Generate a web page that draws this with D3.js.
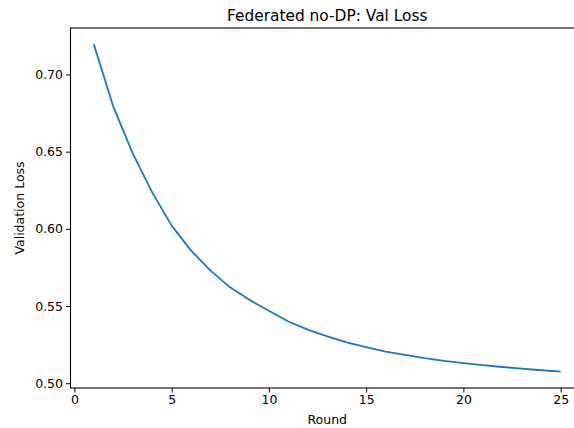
<!DOCTYPE html>
<html>
<head>
<meta charset="utf-8">
<script src="https://cdn.jsdelivr.net/npm/d3@7"></script>
<style>
  body { margin: 0; background: #fff; }
  svg { display: block; font-family: "DejaVu Sans", sans-serif; }
</style>
</head>
<body>
<svg id="chart"></svg>
<script>
// Validation loss per federated round
const rounds = d3.range(1, 26);
const valLoss = [
  0.7195, 0.6792, 0.6489, 0.6236, 0.6021,
  0.5859, 0.5729, 0.5621, 0.5540, 0.5469,
  0.5400, 0.5347, 0.5303, 0.5265, 0.5233,
  0.5205, 0.5183, 0.5162, 0.5145, 0.5130,
  0.5117, 0.5105, 0.5094, 0.5084, 0.5075
];
const xTicks = [0, 5, 10, 15, 20, 25];
const yTicks = [0.50, 0.55, 0.60, 0.65, 0.70];

const width = 574;
const height = 428;
const plotLeft = 70.5, plotTop = 28, plotRight = 584, plotBottom = 388;

const svg = d3.select("#chart")
  .attr("width", width)
  .attr("height", height);

const data = rounds.map((r, i) => ({round: r, loss: valLoss[i]}));

// matplotlib style 5% margins
const xExt = d3.extent(rounds);
const xPad = (xExt[1] - xExt[0]) * 0.05;
const yExt = d3.extent(valLoss);
const yPad = (yExt[1] - yExt[0]) * 0.05;

const x = d3.scaleLinear()
  .domain([xExt[0] - xPad, xExt[1] + xPad])
  .range([plotLeft, plotRight]);
const y = d3.scaleLinear()
  .domain([yExt[0] - yPad, yExt[1] + yPad])
  .range([plotBottom, plotTop]);

const line = d3.line()
  .x(d => x(d.round))
  .y(d => y(d.loss));

svg.append("path")
  .datum(data)
  .attr("d", line)
  .attr("fill", "none")
  .attr("stroke", "#1f77b4")
  .attr("stroke-width", 1.8)
  .attr("stroke-linejoin", "round")
  .attr("stroke-linecap", "butt");

// axes
const xAxis = svg.append("g")
  .attr("transform", `translate(0,${plotBottom})`)
  .call(d3.axisBottom(x).tickValues(xTicks).tickSize(4.5).tickPadding(3).tickSizeOuter(0));
const yAxis = svg.append("g")
  .attr("transform", `translate(${plotLeft},0)`)
  .call(d3.axisLeft(y).tickValues(yTicks).tickFormat(d3.format(".2f")).tickSize(4.5).tickPadding(3).tickSizeOuter(0));

[xAxis, yAxis].forEach(g => {
  g.select(".domain").remove();
  g.selectAll(".tick line").attr("stroke", "#000").attr("stroke-width", 1);
  g.selectAll(".tick text")
    .attr("fill", "#000")
    .attr("font-size", 12.5)
    .attr("font-family", "DejaVu Sans, sans-serif");
});

// spines
svg.append("rect")
  .attr("x", plotLeft)
  .attr("y", plotTop)
  .attr("width", plotRight - plotLeft)
  .attr("height", plotBottom - plotTop)
  .attr("fill", "none")
  .attr("stroke", "#000")
  .attr("stroke-width", 1.1);

svg.append("text")
  .attr("x", (plotLeft + plotRight) / 2)
  .attr("y", plotTop - 7)
  .attr("text-anchor", "middle")
  .attr("font-size", 15.4)
  .text("Federated no-DP: Val Loss");

svg.append("text")
  .attr("x", (plotLeft + plotRight) / 2)
  .attr("y", 424)
  .attr("text-anchor", "middle")
  .attr("font-size", 12.5)
  .text("Round");

svg.append("text")
  .attr("transform", `translate(24,${(plotTop + plotBottom) / 2}) rotate(-90)`)
  .attr("text-anchor", "middle")
  .attr("font-size", 12.5)
  .text("Validation Loss");
</script>
</body>
</html>
